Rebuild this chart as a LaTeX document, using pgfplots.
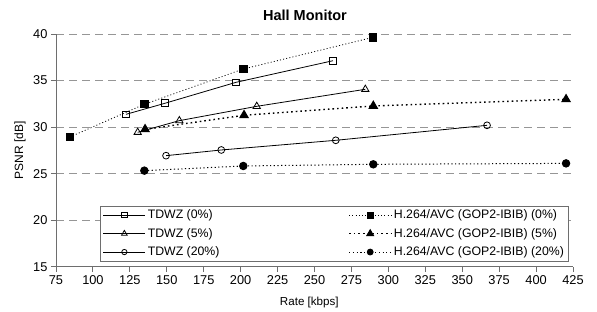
\documentclass[border=0pt]{standalone}
\usepackage{fontspec}
\setmainfont{Liberation Sans}
\usepackage{pgfplots}
\pgfplotsset{compat=1.18}
\definecolor{axgray}{RGB}{110,110,110}
\definecolor{gridgray}{RGB}{150,150,150}
\begin{document}
\begin{tikzpicture}[x=1pt,y=1pt]
\begin{axis}[
  at={(56pt,44.3pt)}, anchor=south west,
  scale only axis, width=517pt, height=232.7pt,
  xmin=75, xmax=425, ymin=15, ymax=40,
  xtick={75,100,...,425}, ytick={15,20,...,40},
  axis x line*=bottom, axis y line*=left,
  axis line style={axgray, line width=0.9pt, -},
  ymajorgrids, grid style={gridgray, line width=0.9pt, dash pattern=on 8pt off 5pt},
  tick align=outside, major tick length=5pt,
  tick style={axgray, line width=0.9pt},
  ticklabel style={font=\fontsize{12.8}{14}\selectfont},
  /pgf/number format/assume math mode=true,
  xlabel={Rate [kbps]}, ylabel={PSNR [dB]},
  xlabel style={at={(axis description cs:0.490,-0.1547)}, anchor=center, font=\fontsize{11.6}{13}\selectfont},
  ylabel style={at={(axis description cs:-0.0696,0.5)}, anchor=center, font=\fontsize{12}{13}\selectfont},
  title={\textbf{Hall Monitor}},
  every axis title shift=0pt,
  title style={at={(axis description cs:0.4816,1.0817)}, anchor=center, font=\fontsize{14.5}{16}\selectfont},
  legend columns=2,
  legend cell align=left,
  legend style={at={(0.9929,0.0215)}, anchor=south east, draw=axgray, line width=0.9pt, fill=white,
    font=\fontsize{12.3}{14}\selectfont, row sep=4pt,
    /tikz/every even column/.append style={column sep=127pt}},
  legend image code/.code={\draw[mark repeat=2,mark phase=2,every mark/.append style={scale=0.78}] plot coordinates {(0pt,0pt)(21pt,0pt)(42pt,0pt)};},
]
\addplot[black, line width=0.8pt, mark=square, mark size=3.4pt, mark options={solid, fill=white, line width=0.8pt}]
  coordinates {(122.4,31.37)(148.8,32.56)(196.9,34.81)(262.5,37.13)};
\addlegendentry{TDWZ (0\%)}
\addplot[black, line width=0.8pt, dash pattern=on 1pt off 2.2pt, mark=square*, mark size=3.6pt, mark options={solid}]
  coordinates {(84.5,28.94)(134.8,32.45)(201.8,36.24)(289.6,39.64)};
\addlegendentry{H.264/AVC (GOP2-IBIB) (0\%)}
\addplot[black, line width=0.8pt, mark=triangle, mark size=4.2pt, mark options={solid, fill=white, line width=0.8pt}]
  coordinates {(130.3,29.44)(158.5,30.69)(210.9,32.23)(284.4,34.06)};
\addlegendentry{TDWZ (5\%)}
\addplot[black, line width=1.4pt, dash pattern=on 1.6pt off 3pt, mark=triangle*, mark size=4.4pt, mark options={solid}]
  coordinates {(135.3,29.76)(202.3,31.27)(289.8,32.27)(420.3,32.98)};
\addlegendentry{H.264/AVC (GOP2-IBIB) (5\%)}
\addplot[black, line width=0.8pt, mark=o, mark size=3.4pt, mark options={solid, fill=white, line width=0.8pt}]
  coordinates {(149.5,26.93)(186.9,27.54)(264.4,28.58)(366.8,30.19)};
\addlegendentry{TDWZ (20\%)}
\addplot[black, line width=1pt, dash pattern=on 1.2pt off 2.5pt, mark=*, mark size=3.7pt, mark options={solid}]
  coordinates {(134.8,25.32)(201.8,25.82)(289.8,26.0)(420.3,26.1)};
\addlegendentry{H.264/AVC (GOP2-IBIB) (20\%)}
\end{axis}
\pgfresetboundingbox
\path[use as bounding box] (0,0) rectangle (597pt,311pt);
\end{tikzpicture}
\end{document}
